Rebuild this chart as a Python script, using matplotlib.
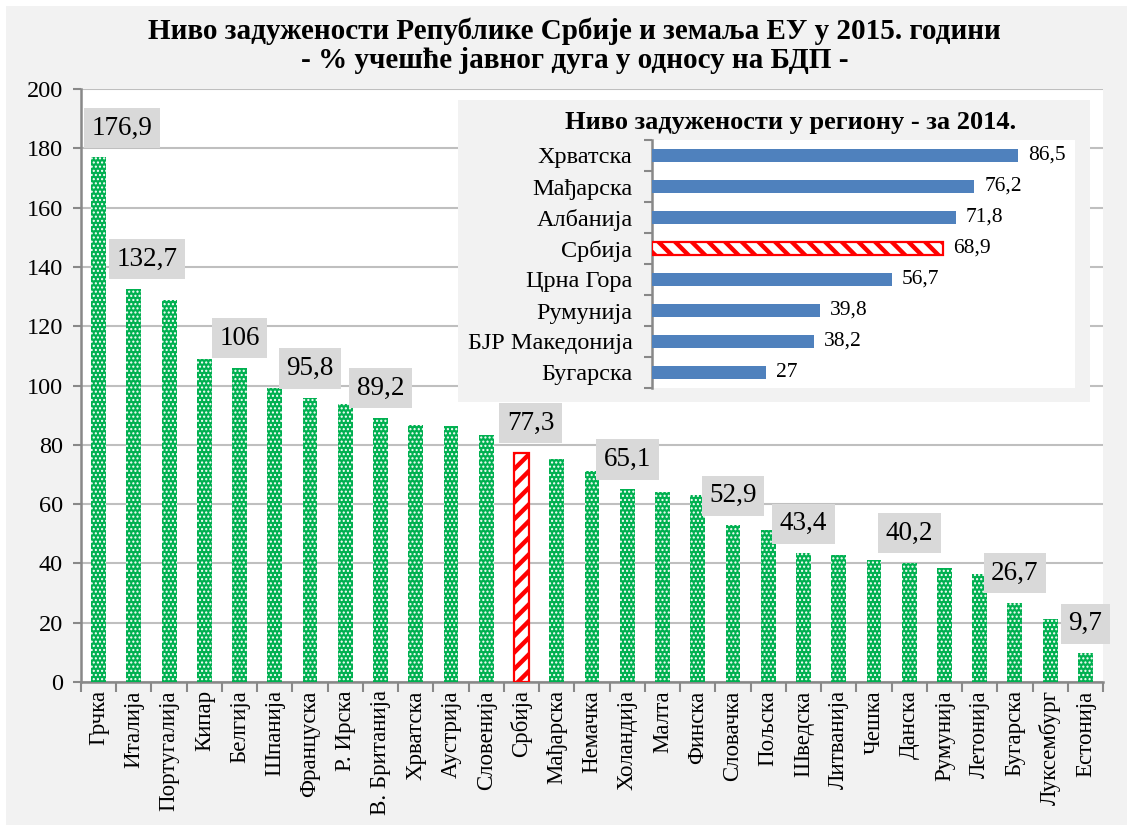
import matplotlib
matplotlib.use("Agg")
import matplotlib.pyplot as plt
from matplotlib.patches import Rectangle
import numpy as np

plt.rcParams['font.family'] = ['Liberation Serif', 'DejaVu Serif']

# ---------------- data ----------------
countries = ["Грчка", "Италија", "Португалија", "Кипар", "Белгија", "Шпанија",
             "Француска", "Р. Ирска", "В. Британија", "Хрватска", "Аустрија",
             "Словенија", "Србија", "Мађарска", "Немачка", "Холандија", "Малта",
             "Финска", "Словачка", "Пољска", "Шведска", "Литванија", "Чешка",
             "Данска", "Румунија", "Летонија", "Бугарска", "Луксембург", "Естонија"]
debt_2015 = [176.9, 132.7, 129.0, 108.9, 106.0, 99.2, 95.8, 93.8, 89.2, 86.7,
             86.2, 83.2, 77.3, 75.3, 71.2, 65.1, 64.0, 63.1, 52.9, 51.3, 43.4,
             42.7, 41.1, 40.2, 38.4, 36.4, 26.7, 21.4, 9.7]
labelled = ["Грчка", "Италија", "Белгија", "Француска", "В. Британија", "Србија",
            "Холандија", "Словачка", "Шведска", "Данска", "Бугарска", "Естонија"]
highlight = "Србија"

region = ["Хрватска", "Мађарска", "Албанија", "Србија", "Црна Гора",
          "Румунија", "БЈР Македонија", "Бугарска"]
debt_2014 = [86.5, 76.2, 71.8, 68.9, 56.7, 39.8, 38.2, 27.0]

yticks = list(range(0, 201, 20))

title_main = ("Ниво задужености Републике Србије и земаља ЕУ у 2015. години\n"
              "- % учешће јавног дуга у односу на БДП -")
title_inset = "Ниво задужености у региону - за 2014."


def fmt(v):
    return f"{v:g}".replace(".", ",")


def thick_hatch(patch, lw):
    if hasattr(patch, "set_hatch_linewidth"):
        patch.set_hatch_linewidth(lw)
    else:
        patch._hatch_linewidth = lw


# ---------------- figure ----------------
W, H = 1127, 825
fig = plt.figure(figsize=(W / 100, H / 100), dpi=100)
fig.patch.set_facecolor("white")
fig.patches.append(Rectangle((6 / W, 0), 1 - 6 / W, 1 - 6 / H, transform=fig.transFigure,
                             facecolor="#f2f2f2", edgecolor="none", zorder=-10))

ax = fig.add_axes([81 / W, 1 - 682 / H, (1103 - 81) / W, (682 - 89) / H])
ax.set_facecolor("white")
x = np.arange(len(countries))
green = "#00b050"
for i, (c, v) in enumerate(zip(countries, debt_2015)):
    if c == highlight:
        bars = ax.bar(i, v, width=0.42, facecolor="white", edgecolor="#ff0000",
                      linewidth=1.6, hatch="//", zorder=3)
        thick_hatch(bars[0], 3.2)
    else:
        ax.bar(i, v, width=0.42, facecolor=green, edgecolor="white",
               linewidth=0, hatch="....", zorder=3)

ax.set_ylim(0, 200)
ax.set_xlim(-0.5, len(countries) - 0.5)
ax.set_yticks(yticks)
ax.set_yticklabels([str(t) for t in yticks], fontsize=17.5)
ax.yaxis.grid(True, color="#bfbfbf", linewidth=1.5, zorder=0)
ax.set_axisbelow(True)
ax.tick_params(axis="y", length=6, width=1.5, color="#888888", pad=7)
ax.set_xticks(x)
ax.set_xticklabels(countries, rotation=90, fontsize=16.5)
ax.tick_params(axis="x", length=0, pad=6)
ax.set_xticks(np.arange(len(countries) + 1) - 0.5, minor=True)
ax.tick_params(axis="x", which="minor", length=7, width=1.5, color="#888888")
for s in ["top", "right"]:
    ax.spines[s].set_visible(False)
for s in ["left", "bottom"]:
    ax.spines[s].set_color("#888888")
    ax.spines[s].set_linewidth(1.8)

label_dx = {"Грчка": 23, "Италија": 13, "Србија": 9}
for i, (c, v) in enumerate(zip(countries, debt_2015)):
    if c in labelled:
        ax.annotate(fmt(v), (i, v), xytext=(label_dx.get(c, 0), 17),
                    textcoords="offset pixels", ha="center", va="bottom",
                    fontsize=19.5, zorder=5,
                    bbox=dict(boxstyle="square,pad=0.28", facecolor="#d9d9d9",
                              edgecolor="none"))

fig.text(0.51, 0.979, title_main, ha="center", va="top", fontsize=21,
         fontweight="bold", linespacing=1.08)

# ---------------- inset ----------------
fig.patches.append(Rectangle((458 / W, 1 - 402 / H), (1090 - 458) / W, (402 - 100) / H,
                             transform=fig.transFigure, facecolor="#f2f2f2",
                             edgecolor="none", zorder=1))
axi = fig.add_axes([652 / W, 1 - 388 / H, (1075 - 652) / W, (388 - 140) / H], zorder=2)
axi.set_facecolor("white")
yi = np.arange(len(region))
for j, (c, v) in enumerate(zip(region, debt_2014)):
    if c == highlight:
        bb = axi.barh(j, v, height=0.45, facecolor="white", edgecolor="#ff0000",
                      linewidth=1.6, hatch="\\\\", zorder=3)
        thick_hatch(bb[0], 3.2)
    else:
        axi.barh(j, v, height=0.45, color="#4f81bd", zorder=3)
    axi.annotate(fmt(v), (v, j), xytext=(10, 0), textcoords="offset pixels",
                 ha="left", va="center", fontsize=15.5)
axi.set_xlim(0, 100)
axi.set_ylim(len(region) - 0.5, -0.5)
axi.set_xticks([])
axi.set_yticks(yi)
axi.set_yticklabels(region, fontsize=17.5)
axi.tick_params(axis="y", which="major", length=0, pad=14)
axi.set_yticks(np.arange(len(region) + 1) - 0.5, minor=True)
axi.tick_params(axis="y", which="minor", length=6, width=1.5, color="#888888")
for s in ["top", "right", "bottom"]:
    axi.spines[s].set_visible(False)
axi.spines["left"].set_color("#888888")
axi.spines["left"].set_linewidth(1.8)
fig.text(791 / W, 1 - 123 / H, title_inset, ha="center", va="center", fontsize=19,
         fontweight="bold", zorder=3)

fig.savefig("out.png", dpi=100)
